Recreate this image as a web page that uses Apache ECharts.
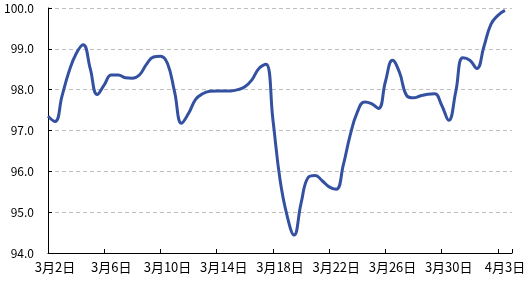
<!DOCTYPE html>
<html>
<head>
<meta charset="utf-8">
<script src="https://cdn.jsdelivr.net/npm/echarts@6/dist/echarts.min.js"></script>
<style>
html,body{margin:0;padding:0;background:#fff;}
#chart{width:529px;height:282px;}
</style>
</head>
<body>
<div id="chart"></div>
<script>
// Daily categories (visible axis)
var dates = ['3月2日','3月3日','3月4日','3月5日','3月6日','3月7日','3月8日','3月9日','3月10日','3月11日','3月12日','3月13日','3月14日','3月15日','3月16日','3月17日','3月18日','3月19日','3月20日','3月21日','3月22日','3月23日','3月24日','3月25日','3月26日','3月27日','3月28日','3月29日','3月30日','3月31日','4月1日','4月2日','4月3日'];
var indexValues = [97.35,97.22,97.85,98.45,98.88,99.1,98.52,97.88,98.12,98.36,
  98.36,98.29,98.28,98.36,98.62,98.8,98.82,98.64,97.95,97.18,
  97.42,97.76,97.9,97.96,97.97,97.97,97.97,98.0,98.07,98.24,
  98.52,98.62,97.25,95.8,94.92,94.44,95.22,95.85,95.9,95.77,
  95.62,95.56,96.15,96.9,97.45,97.7,97.66,97.54,98.2,98.72,
  98.42,97.86,97.8,97.85,97.89,97.9,97.62,97.25,97.95,98.78,
  98.72,98.52,99.05,99.6,99.82,99.94];
var yMin = 94, yMax = 100, yStep = 1;

// Half-day slots spanning the daily axis (boundaries included)
var halfSlots = [];
dates.forEach(function(d){ halfSlots.push(d + ' 上午'); halfSlots.push(d + ' 下午'); });
halfSlots.push('4月4日 上午');

var chart = echarts.init(document.getElementById('chart'), null, {renderer:'canvas'});
var font = '"Noto Sans CJK JP", "Liberation Sans", sans-serif';
chart.setOption({
  animation:false,
  backgroundColor:'#ffffff',
  grid:{left:48,right:17,top:8,bottom:29,containLabel:false},
  xAxis:[{
    type:'category',
    data:dates,
    boundaryGap:true,
    axisLine:{show:true,lineStyle:{color:'#000',width:1}},
    axisTick:{show:true,inside:true,length:4,interval:3,lineStyle:{color:'#000'}},
    axisLabel:{interval:3,color:'#000',fontSize:13,fontFamily:font,margin:8},
    splitLine:{show:false}
  },{
    type:'category',
    data:halfSlots,
    boundaryGap:false,
    show:false,
    position:'bottom'
  }],
  yAxis:{
    type:'value',
    min:yMin,max:yMax,interval:yStep,
    axisLine:{show:true,lineStyle:{color:'#000',width:1}},
    axisTick:{show:true,inside:true,length:4,lineStyle:{color:'#000'}},
    axisLabel:{color:'#000',fontSize:12,fontFamily:font,margin:14,formatter:function(v){return v.toFixed(1);}},
    splitLine:{show:true,lineStyle:{color:'#BFBFBF',type:[4,3],width:1}}
  },
  series:[{
    type:'line',
    xAxisIndex:1,
    data:indexValues,
    smooth:0.45,
    showSymbol:false,
    lineStyle:{color:'#3451A1',width:3},
    itemStyle:{color:'#3451A1'}
  }]
});
</script>
</body>
</html>
